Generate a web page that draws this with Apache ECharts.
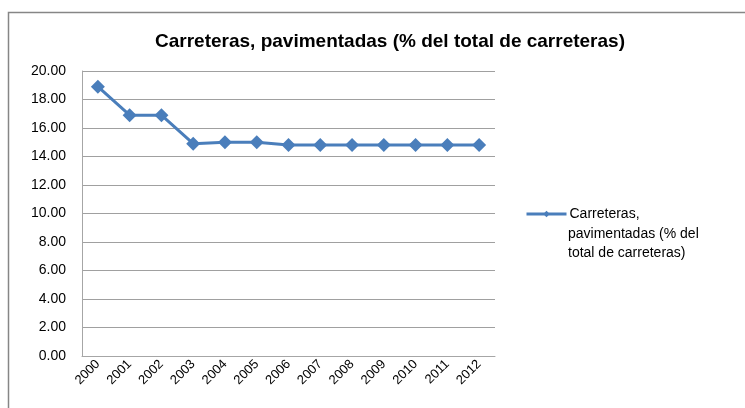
<!DOCTYPE html>
<html>
<head>
<meta charset="utf-8">
<script src="https://cdn.jsdelivr.net/npm/echarts@6/dist/echarts.min.js"></script>
<style>
html,body{margin:0;padding:0;background:#fff;}
#main{width:745px;height:408px;}
</style>
</head>
<body>
<div id="main"></div>
<script>
var years = ['2000','2001','2002','2003','2004','2005','2006','2007','2008','2009','2010','2011','2012'];
var paved = [18.9, 16.9, 16.9, 14.9, 15.0, 15.0, 14.8, 14.8, 14.8, 14.8, 14.8, 14.8, 14.8];
var seriesName = 'Carreteras, pavimentadas (% del total de carreteras)';
// legend text split like the original (first line sits next to the icon)
var legendLines = ['Carreteras,', 'pavimentadas (% del', 'total de carreteras)'];

var chart = echarts.init(document.getElementById('main'));
var option = {
	animation: false,
	textStyle: {fontFamily: 'Liberation Sans, Arial, sans-serif'},
	title: {
		text: seriesName,
		left: 385,
		textAlign: 'center',
		top: 27,
		textStyle: {fontSize: 19, fontWeight: 'bold', color: '#000'}
	},
	graphic: [{
		type: 'rect',
		shape: {x: 8.5, y: 12.5, width: 800, height: 500},
		style: {fill: 'none', stroke: '#868686', lineWidth: 1.5},
		z: -1
	}, {
		type: 'text',
		left: 568,
		top: 225,
		style: {
			text: legendLines.slice(1).join('\n'),
			fill: '#000',
			font: '14px Liberation Sans, Arial, sans-serif',
			lineHeight: 19
		}
	}],
	grid: {left: 82, top: 71, width: 413, height: 285},
	legend: {
		left: 520,
		top: 202,
		orient: 'vertical',
		itemWidth: 40,
		itemHeight: 8,
		lineStyle: {width: 3},
		formatter: function () { return legendLines[0]; },
		textStyle: {fontSize: 14, color: '#000', padding: [0, 0, 0, -2]},
		data: [seriesName]
	},
	xAxis: {
		type: 'category',
		data: years,
		boundaryGap: true,
		axisLine: {lineStyle: {color: '#a6a6a6', width: 1}},
		axisTick: {show: false},
		axisLabel: {rotate: 45, color: '#000', fontSize: 13, margin: 6, interval: 0}
	},
	yAxis: {
		type: 'value',
		min: 0,
		max: 20,
		interval: 2,
		axisLine: {show: true, lineStyle: {color: '#a6a6a6'}},
		axisTick: {show: false},
		splitLine: {lineStyle: {color: '#a0a0a0'}},
		axisLabel: {color: '#000', fontSize: 14, margin: 16, formatter: function (v) { return v.toFixed(2); }}
	},
	series: [{
		name: seriesName,
		type: 'line',
		data: paved,
		symbol: 'diamond',
		symbolSize: 14,
		lineStyle: {color: '#4a7ebb', width: 3},
		itemStyle: {color: '#4a7ebb'}
	}]
};
chart.setOption(option);
</script>
</body>
</html>
